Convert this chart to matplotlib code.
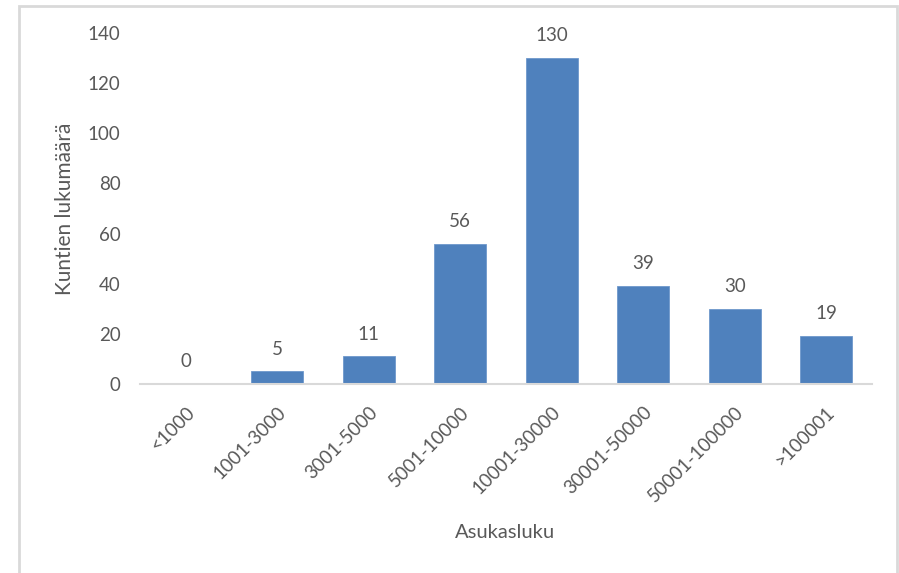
import matplotlib
matplotlib.use('Agg')
import matplotlib.pyplot as plt
from matplotlib.patches import Rectangle

# Data
luokat = ["<1000", "1001-3000", "3001-5000", "5001-10000", "10001-30000",
          "30001-50000", "50001-100000", ">100001"]
kunnat = [0, 5, 11, 56, 130, 39, 30, 19]

plt.rcParams['font.family'] = ['Lato', 'DejaVu Sans']
harmaa = "#595959"

fig = plt.figure(figsize=(8.99, 5.73), dpi=100)
ax = fig.add_axes([140/899, 1 - 384/573, (872 - 140)/899, (384 - 33)/573])

x = list(range(len(luokat)))
bars = ax.bar(x, kunnat, width=0.57, color="#4F81BD", edgecolor="#6E98CC", linewidth=0.6)

# Data labels
for xi, v in zip(x, kunnat):
    ax.annotate(str(v), (xi, v), xytext=(0, 10), textcoords="offset points",
                ha="center", va="bottom", fontsize=13.5, color=harmaa)

ax.set_xlim(-0.5, len(luokat) - 0.5)
ax.set_ylim(0, 140)
ax.set_yticks(range(0, 141, 20))
ax.set_xticks(x)
ax.set_xticklabels(luokat, rotation=45, ha="right", rotation_mode="anchor")

ax.tick_params(axis="both", length=0, labelsize=13.5, labelcolor=harmaa)
ax.tick_params(axis="y", pad=14)
ax.tick_params(axis="x", pad=14)

for s in ["top", "right", "left"]:
    ax.spines[s].set_visible(False)
ax.spines["bottom"].set_color("#D9D9D9")
ax.spines["bottom"].set_linewidth(1.5)

ax.set_ylabel("Kuntien lukumäärä", fontsize=15, color=harmaa, va="center")
ax.yaxis.set_label_coords((65 - 140)/732, 0.5)
fig.text(505/899, 1 - 533/573, "Asukasluku", ha="center", va="center",
         fontsize=14.5, color=harmaa)

# Light frame around the chart area
fig.patches.append(Rectangle((19/899, -0.05), (897 - 19)/899, 1.05 - 6/573,
                             transform=fig.transFigure, fill=False,
                             edgecolor="#D9D9D9", linewidth=2))

plt.savefig("out.png", dpi=100)
plt.close()
